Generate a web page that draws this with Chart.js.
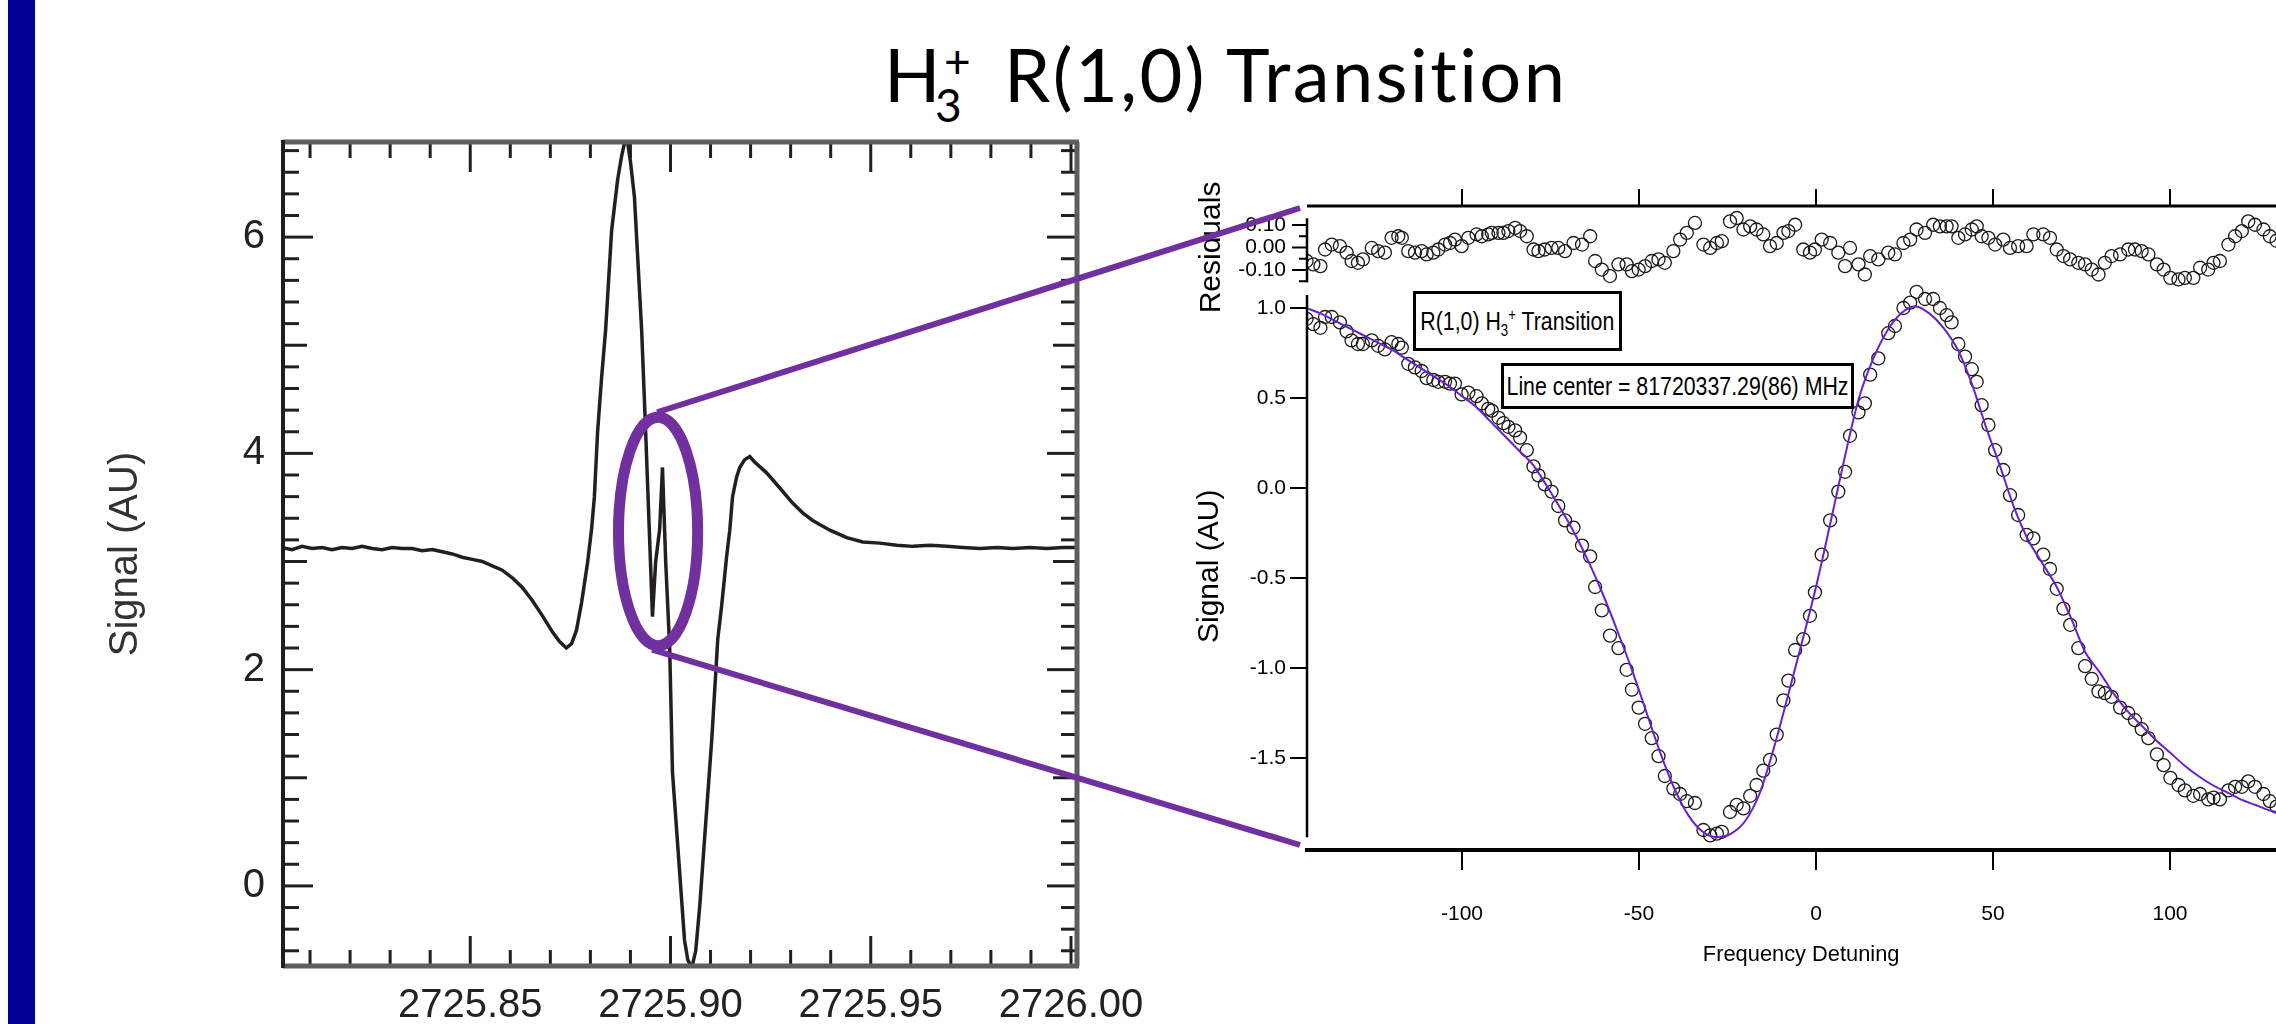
<!DOCTYPE html>
<html>
<head>
<meta charset="utf-8">
<script src="https://cdn.jsdelivr.net/npm/chart.js@4.4.1/dist/chart.umd.min.js"></script>
<style>
html,body{margin:0;padding:0;width:2276px;height:1024px;overflow:hidden;background:#fff;position:relative}
#bar{position:absolute;left:8px;top:0;width:27px;height:1024px;background:#000096}
#title{position:absolute;left:0;top:0;width:2276px;height:140px;color:#000}
#title span{position:absolute;font-family:Lato,"Open Sans",sans-serif;line-height:1;white-space:nowrap}
canvas{position:absolute}
#cl{left:40px;top:100px}
#cr{left:1187px;top:150px}
.box{position:absolute;border:3px solid #000;box-sizing:border-box;background:#fff;display:flex;align-items:center;justify-content:center;white-space:nowrap;color:#000}
.box .bt{display:inline-block;font-size:26px;line-height:1}
.box sub,.box sup{font-size:0.62em;line-height:0}
#box1{left:1413px;top:291px;width:209px;height:60px}
#box2{left:1501px;top:363px;width:353px;height:46px}
#ov{position:absolute;left:0;top:0;pointer-events:none}
</style>
</head>
<body>
<div id="bar"></div>
<div id="title"><span style="left:884px;top:37px;font-size:74px">H</span><span style="left:935px;top:82px;font-size:46px">3</span><span style="left:944px;top:38px;font-size:46px">+</span><span id="trest" style="left:1004px;top:37px;font-size:74px;letter-spacing:2.4px">R(1,0) Transition</span></div>
<canvas id="cl" width="1120" height="924"></canvas>
<canvas id="cr" width="1250" height="820"></canvas>
<div class="box" id="box1"><span class="bt">R(1,0) H<sub>3</sub><sup>+</sup> Transition</span></div>
<div class="box" id="box2"><span class="bt">Line center = 81720337.29(86) MHz</span></div>
<svg id="ov" width="2276" height="1024"></svg>
<script>
// ---------------- LEFT PANEL DATA (survey scan) ----------------
const leftFreq = [2725.803, 2725.8055, 2725.808, 2725.8105, 2725.813, 2725.8155, 2725.818, 2725.8205, 2725.823, 2725.8255,
  2725.828, 2725.8305, 2725.833, 2725.8355, 2725.838, 2725.8405, 2725.843, 2725.8455, 2725.848, 2725.8505,
  2725.853, 2725.8555, 2725.858, 2725.8605, 2725.863, 2725.8655, 2725.868, 2725.8705, 2725.8723, 2725.874,
  2725.8753, 2725.8765, 2725.8778, 2725.8793, 2725.8803, 2725.881, 2725.8818, 2725.8828, 2725.8838, 2725.8853,
  2725.8868, 2725.8878, 2725.889, 2725.89, 2725.891, 2725.8928, 2725.8938, 2725.8948, 2725.8955, 2725.8963,
  2725.8973, 2725.898, 2725.8988, 2725.8998, 2725.9005, 2725.9023, 2725.9035, 2725.9043, 2725.9053, 2725.9063,
  2725.9073, 2725.9085, 2725.9103, 2725.9118, 2725.9128, 2725.914, 2725.9148, 2725.9155, 2725.9165, 2725.9173,
  2725.9185, 2725.9198, 2725.921, 2725.924, 2725.9273, 2725.9305, 2725.933, 2725.9355, 2725.9398, 2725.944,
  2725.948, 2725.9523, 2725.9565, 2725.9605, 2725.9648, 2725.969, 2725.973, 2725.9773, 2725.9815, 2725.9855,
  2725.9898, 2725.994, 2725.998, 2726.0015];
const leftSignal = [3.13, 3.11, 3.14, 3.12, 3.13, 3.11, 3.13, 3.12, 3.14, 3.12,
  3.11, 3.13, 3.12, 3.12, 3.10, 3.11, 3.09, 3.07, 3.04, 3.02,
  3.00, 2.96, 2.92, 2.85, 2.76, 2.64, 2.50, 2.35, 2.26, 2.20,
  2.24, 2.36, 2.62, 2.99, 3.30, 3.60, 4.20, 4.70, 5.14, 6.06,
  6.53, 6.75, 6.95, 6.70, 6.37, 5.14, 4.20, 3.20, 2.49, 3.00,
  3.30, 3.87, 3.00, 2.20, 1.05, 0.12, -0.50, -0.68, -0.76, -0.60,
  -0.19, 0.43, 1.35, 2.28, 2.60, 3.04, 3.29, 3.60, 3.78, 3.87,
  3.94, 3.97, 3.92, 3.82, 3.68, 3.54, 3.45, 3.38, 3.29, 3.22,
  3.18, 3.17, 3.15, 3.14, 3.15, 3.14, 3.13, 3.12, 3.13, 3.12,
  3.13, 3.12, 3.13, 3.13];
const leftXTicks = [2725.85, 2725.90, 2725.95, 2726.00];
const leftYTicks = [0, 2, 4, 6];

// ---------------- RIGHT PANEL DATA (zoomed scan + fit) ----------------
const detuning = [-143.9, -142.0, -140.0, -138.7, -136.8, -134.5, -132.6, -131.2, -129.4, -128.0,
  -125.5, -123.7, -121.8, -119.9, -118.0, -117.0, -115.2, -113.3, -111.4, -110.0,
  -108.1, -106.7, -104.8, -103.4, -102.0, -100.1, -98.2, -95.9, -94.4, -92.6,
  -91.6, -89.7, -88.3, -86.9, -85.0, -83.6, -81.7, -79.8, -78.4, -76.6,
  -74.7, -72.8, -70.9, -68.5, -66.1, -63.8, -62.4, -60.5, -58.2, -55.8,
  -53.5, -52.0, -50.1, -48.3, -46.4, -44.5, -42.7, -40.3, -38.4, -36.5,
  -34.2, -31.8, -29.9, -28.0, -26.6, -24.3, -22.4, -20.5, -18.6, -16.8,
  -14.9, -13.0, -11.1, -9.2, -7.8, -5.9, -3.6, -1.7, -0.3, 1.6,
  4.0, 6.3, 8.2, 9.6, 12.0, 13.8, 15.3, 17.6, 20.4, 22.3,
  24.7, 26.6, 28.4, 30.8, 33.1, 35.0, 36.9, 38.3, 40.2, 42.1,
  44.0, 45.4, 46.8, 48.7, 50.6, 52.9, 54.8, 57.1, 59.5, 61.4,
  64.2, 66.1, 68.0, 69.9, 71.8, 74.1, 76.0, 77.9, 79.8, 81.6,
  83.5, 85.9, 88.2, 90.1, 92.0, 93.9, 96.3, 98.2, 100.1, 102.4,
  104.2, 106.6, 108.5, 110.8, 112.3, 114.1, 116.5, 118.4, 120.3, 122.1,
  124.0, 126.4, 128.2, 130.1, 132.0, 134.0, 136.0];
const signal = [0.94, 0.91, 0.89, 0.95, 0.95, 0.92, 0.87, 0.82, 0.80, 0.80,
  0.82, 0.79, 0.77, 0.81, 0.80, 0.78, 0.69, 0.67, 0.65, 0.61,
  0.60, 0.59, 0.59, 0.58, 0.58, 0.52, 0.53, 0.51, 0.47, 0.44,
  0.43, 0.39, 0.36, 0.34, 0.32, 0.28, 0.21, 0.12, 0.07, 0.02,
  -0.02, -0.10, -0.18, -0.22, -0.32, -0.38, -0.55, -0.68, -0.82, -0.89,
  -1.01, -1.12, -1.22, -1.31, -1.39, -1.49, -1.60, -1.67, -1.70, -1.74,
  -1.75, -1.90, -1.93, -1.92, -1.91, -1.80, -1.76, -1.78, -1.71, -1.65,
  -1.57, -1.51, -1.37, -1.18, -1.07, -0.90, -0.84, -0.71, -0.58, -0.37,
  -0.18, -0.02, 0.09, 0.29, 0.42, 0.47, 0.63, 0.72, 0.86, 0.90,
  1.00, 1.03, 1.09, 1.05, 1.05, 1.00, 0.96, 0.92, 0.80, 0.73,
  0.66, 0.59, 0.46, 0.35, 0.21, 0.10, -0.04, -0.15, -0.26, -0.28,
  -0.37, -0.45, -0.56, -0.67, -0.76, -0.89, -0.99, -1.06, -1.13, -1.14,
  -1.16, -1.22, -1.25, -1.29, -1.34, -1.39, -1.48, -1.54, -1.61, -1.65,
  -1.68, -1.71, -1.70, -1.73, -1.72, -1.73, -1.68, -1.66, -1.66, -1.63,
  -1.66, -1.70, -1.74, -1.77, -1.80, -1.84, -1.87];
const residuals = [-0.060, -0.075, -0.083, -0.009, 0.013, 0.006, -0.023, -0.060, -0.068, -0.053,
  -0.002, -0.016, -0.023, 0.043, 0.050, 0.043, -0.016, -0.023, -0.016, -0.031,
  -0.023, -0.009, 0.013, 0.020, 0.035, 0.006, 0.043, 0.058, 0.050, 0.058,
  0.065, 0.065, 0.065, 0.073, 0.087, 0.073, 0.050, -0.009, -0.016, -0.009,
  -0.002, -0.002, -0.016, 0.020, 0.013, 0.050, -0.060, -0.098, -0.127, -0.075,
  -0.075, -0.105, -0.098, -0.083, -0.060, -0.053, -0.068, -0.016, 0.035, 0.065,
  0.109, 0.013, -0.002, 0.020, 0.028, 0.116, 0.131, 0.080, 0.094, 0.080,
  0.058, 0.006, 0.020, 0.065, 0.073, 0.101, -0.009, -0.023, -0.009, 0.035,
  0.020, -0.023, -0.083, -0.002, -0.075, -0.120, -0.038, -0.053, -0.023, -0.031,
  0.020, 0.035, 0.080, 0.065, 0.101, 0.094, 0.094, 0.094, 0.043, 0.058,
  0.080, 0.094, 0.050, 0.043, 0.013, 0.035, -0.002, 0.006, 0.006, 0.058,
  0.058, 0.043, -0.009, -0.038, -0.053, -0.068, -0.075, -0.098, -0.120, -0.068,
  -0.038, -0.031, -0.009, -0.009, -0.016, -0.031, -0.075, -0.098, -0.135, -0.142,
  -0.135, -0.135, -0.090, -0.098, -0.068, -0.060, 0.013, 0.050, 0.073, 0.116,
  0.101, 0.080, 0.050, 0.030, 0.010, -0.020, -0.040];
const fitDetuning = [-144, -140, -136, -132, -128, -124, -120, -116, -112, -108,
  -104, -100, -96, -92, -88, -84, -80, -76, -72, -68,
  -64, -60, -56, -52, -48, -44, -40, -36, -32, -28,
  -24, -20, -16, -12, -8, -4, 0, 4, 8, 12,
  16, 20, 24, 28, 32, 36, 40, 44, 48, 52,
  56, 60, 64, 68, 72, 76, 80, 84, 88, 92,
  96, 100, 104, 108, 112, 116, 120, 124, 128, 132,
  136, 140, 150, 160, 172];
const fitSignal = [1.00, 0.97, 0.93, 0.89, 0.85, 0.81, 0.77, 0.72, 0.67, 0.62,
  0.57, 0.51, 0.45, 0.37, 0.29, 0.21, 0.13, 0.01, -0.12, -0.26,
  -0.42, -0.60, -0.80, -1.01, -1.24, -1.47, -1.67, -1.82, -1.91, -1.94,
  -1.92, -1.85, -1.70, -1.45, -1.16, -0.86, -0.55, -0.20, 0.16, 0.49,
  0.71, 0.87, 0.97, 1.01, 0.97, 0.89, 0.77, 0.58, 0.34, 0.12,
  -0.11, -0.29, -0.42, -0.55, -0.72, -0.91, -1.02, -1.14, -1.24, -1.32,
  -1.40, -1.47, -1.54, -1.60, -1.65, -1.69, -1.73, -1.76, -1.79, -1.81,
  -1.83, -1.86, -1.91, -1.95, -1.98];
const rightXTicks = [-100, -50, 0, 50, 100, 150];
const rightYTicks = [1.0, 0.5, 0, -0.5, -1.0, -1.5];
const resMajorTicks = [0.10, 0.00, -0.10];
const resTickLabels = ['0.10', '0.00', '-0.10'];
const resMinorTicks = [0.05, -0.05, -0.15];

// ---------------- fonts ----------------
function hasFont(name) {
  const c = document.createElement('canvas').getContext('2d');
  const s = 'mmmmmmmmmmlli1234567890WW';
  let diff = false;
  for (const fb of ['monospace', 'serif']) {
    c.font = '40px ' + fb; const a = c.measureText(s).width;
    c.font = '40px "' + name + '", ' + fb; const b = c.measureText(s).width;
    if (Math.abs(a - b) > 0.5) diff = true;
  }
  return diff;
}
const narrowOK = hasFont('Liberation Sans Narrow');
const NARROW = narrowOK ? '"Liberation Sans Narrow", "Liberation Sans", sans-serif' : '"Liberation Sans", Arial, sans-serif';
const NS = narrowOK ? 1 : 0.84;
const SANS = '"Liberation Sans", Arial, sans-serif';
document.querySelectorAll('.box .bt').forEach(el => {
  el.style.fontFamily = NARROW;
  if (!narrowOK) el.style.transform = 'scaleX(0.82)';
});

function seg(ctx, x1, y1, x2, y2) { ctx.beginPath(); ctx.moveTo(x1, y1); ctx.lineTo(x2, y2); ctx.stroke(); }

// ---------------- left chart ----------------
const leftYTickMarks = []; for (let n = -3; n <= 34; n++) leftYTickMarks.push(n / 5);
const leftXTickMarks = []; for (let n = 1; n <= 20; n++) leftXTickMarks.push(2725.80 + n / 100);

const leftFrame = {
  id: 'leftFrame',
  afterDatasetsDraw(chart) {
    const { ctx, chartArea: a, scales: { x, y } } = chart;
    ctx.save();
    ctx.lineCap = 'butt';
    ctx.strokeStyle = '#231f20'; ctx.lineWidth = 3;
    for (const v of leftYTickMarks) {
      const py = y.getPixelForValue(v);
      const n = Math.round(v * 5);
      let len = 16;
      if (n % 10 === 0) len = 30; else if (n % 5 === 0) len = 24;
      seg(ctx, a.left, py, a.left + len, py);
      seg(ctx, a.right, py, a.right - len, py);
    }
    for (const v of leftXTickMarks) {
      const px = x.getPixelForValue(v);
      const n = Math.round((v - 2725.80) * 100);
      const len = n % 5 === 0 ? 30 : 16;
      seg(ctx, px, a.top, px, a.top + len);
      seg(ctx, px, a.bottom, px, a.bottom - len);
    }
    ctx.strokeStyle = '#5e5e5e'; ctx.lineWidth = 5;
    seg(ctx, a.left, a.top, a.right + 2, a.top);
    seg(ctx, a.left, a.bottom, a.right + 2, a.bottom);
    seg(ctx, a.right, a.top, a.right, a.bottom);
    ctx.strokeStyle = '#1e1e1e'; ctx.lineWidth = 4;
    seg(ctx, a.left, a.top - 2, a.left, a.bottom + 2);
    ctx.restore();
  }
};

const chartL = new Chart(document.getElementById('cl'), {
  type: 'scatter',
  data: {
    datasets: [{
      data: leftFreq.map((f, i) => ({ x: f, y: leftSignal[i] })),
      showLine: true, pointRadius: 0, borderColor: '#231f20', borderWidth: 3.5, tension: 0
    }]
  },
  options: {
    responsive: false, animation: false, events: [],
    layout: { padding: { top: 42, right: 83, left: 0, bottom: 0 } },
    plugins: { legend: { display: false }, tooltip: { enabled: false } },
    scales: {
      x: {
        type: 'linear', min: 2725.80325, max: 2726.0015,
        afterBuildTicks: s => { s.ticks = leftXTicks.map(v => ({ value: v })); },
        afterFit: s => { s.height = 58; },
        grid: { display: false, drawTicks: false }, border: { display: false },
        ticks: { font: { family: SANS, size: 40 }, color: '#222', padding: 16, maxRotation: 0, autoSkip: false, callback: v => Number(v).toFixed(2) }
      },
      y: {
        type: 'linear', min: -0.7407, max: 6.8796,
        afterBuildTicks: s => { s.ticks = leftYTicks.map(v => ({ value: v })); },
        afterFit: s => { s.width = 243; },
        grid: { display: false, drawTicks: false }, border: { display: false },
        ticks: { font: { family: SANS, size: 40 }, color: '#222', padding: 18, callback: v => String(v) },
        title: { display: true, text: 'Signal (AU)', font: { family: SANS, size: 40 }, color: '#333', padding: { top: 62, bottom: 0 } }
      }
    }
  },
  plugins: [leftFrame]
});

// ---------------- right chart ----------------
const mainAxisTop = 1.072, mainAxisBottom = -1.94;
const resAxisTop = 0.13, resAxisBottom = -0.155;

const rightDecor = {
  id: 'rightDecor',
  afterDraw(chart) {
    const { ctx, chartArea: a, scales } = chart;
    const x = scales.x, y = scales.y, yr = scales.yr;
    ctx.save();
    ctx.strokeStyle = '#000'; ctx.fillStyle = '#000'; ctx.lineCap = 'butt';
    ctx.lineWidth = 3;
    seg(ctx, a.left, a.top, a.right, a.top);
    ctx.lineWidth = 2;
    for (const v of rightXTicks) { const px = x.getPixelForValue(v); seg(ctx, px, a.top, px, a.top - 17); }
    ctx.lineWidth = 2.5;
    seg(ctx, a.left, y.getPixelForValue(mainAxisTop), a.left, y.getPixelForValue(mainAxisBottom));
    seg(ctx, a.left, yr.getPixelForValue(resAxisTop), a.left, yr.getPixelForValue(resAxisBottom));
    ctx.lineWidth = 2;
    for (const v of resMajorTicks) { const py = yr.getPixelForValue(v); seg(ctx, a.left - 15, py, a.left, py); }
    for (const v of resMinorTicks) { const py = yr.getPixelForValue(v); seg(ctx, a.left - 8, py, a.left, py); }
    ctx.font = (25 * NS) + 'px ' + NARROW;
    ctx.textAlign = 'right'; ctx.textBaseline = 'middle';
    resMajorTicks.forEach((v, i) => ctx.fillText(resTickLabels[i], a.left - 21, yr.getPixelForValue(v)));
    // axis titles
    ctx.font = '30px ' + SANS; ctx.textAlign = 'center'; ctx.textBaseline = 'middle';
    const rot = (t, px, py) => { ctx.save(); ctx.translate(px, py); ctx.rotate(-Math.PI / 2); ctx.fillText(t, 0, 0); ctx.restore(); };
    rot('Residuals', a.left - 95, yr.getPixelForValue(0));
    rot('Signal (AU)', a.left - 97, y.getPixelForValue(-0.435));
    ctx.font = (26 * NS) + 'px ' + NARROW; ctx.textBaseline = 'alphabetic';
    ctx.fillText('Frequency Detuning', x.getPixelForValue(-4.2), a.bottom + 111);
    ctx.restore();
  }
};

const chartR = new Chart(document.getElementById('cr'), {
  type: 'scatter',
  data: {
    datasets: [
      { label: 'fit', data: fitDetuning.map((f, i) => ({ x: f, y: fitSignal[i] })), yAxisID: 'y',
        showLine: true, pointRadius: 0, borderColor: '#6a1fd0', borderWidth: 2, cubicInterpolationMode: 'monotone', order: 0 },
      { label: 'signal', data: detuning.map((f, i) => ({ x: f, y: signal[i] })), yAxisID: 'y',
        showLine: false, pointStyle: 'circle', pointRadius: 6.5, borderColor: '#1a1a1a', backgroundColor: 'rgba(0,0,0,0)', borderWidth: 1.3, order: 1 },
      { label: 'residuals', data: detuning.map((f, i) => ({ x: f, y: residuals[i] })), yAxisID: 'yr',
        showLine: false, pointStyle: 'circle', pointRadius: 6.5, borderColor: '#1a1a1a', backgroundColor: 'rgba(0,0,0,0)', borderWidth: 1.3, order: 1 }
    ]
  },
  options: {
    responsive: false, animation: false, events: [],
    layout: { padding: { top: 56, right: 10, left: 0, bottom: 0 } },
    plugins: { legend: { display: false }, tooltip: { enabled: false } },
    scales: {
      x: {
        type: 'linear', position: 'bottom', min: -143.79, max: 172.6,
        afterBuildTicks: s => { s.ticks = rightXTicks.map(v => ({ value: v })); },
        afterFit: s => { s.height = 120; },
        grid: { drawOnChartArea: false, drawTicks: true, tickLength: 20, color: '#000', lineWidth: 2 },
        border: { display: true, color: '#000', width: 4 },
        ticks: { font: { family: NARROW, size: 25 * NS }, color: '#000', padding: 32, maxRotation: 0, autoSkip: false, callback: v => String(v) }
      },
      y: {
        type: 'linear', position: 'left', min: -2.0111, max: 1.5667,
        afterBuildTicks: s => { s.ticks = rightYTicks.map(v => ({ value: v })); },
        afterFit: s => { s.width = 120; },
        grid: { drawOnChartArea: false, drawTicks: true, tickLength: 17, color: '#000', lineWidth: 2 },
        border: { display: false },
        ticks: { font: { family: NARROW, size: 25 * NS }, color: '#000', padding: 4, callback: v => Number(v).toFixed(1) }
      },
      yr: { type: 'linear', position: 'left', display: false, min: -2.6778, max: 0.1844 }
    }
  },
  plugins: [rightDecor]
});

// ---------------- zoom callout (ellipse + connector lines) ----------------
const zoomFreqCenter = 2725.8969, zoomFreqHalf = 0.00988;
const zoomSignalCenter = 3.278, zoomSignalHalf = 1.056;
(function drawCallout() {
  const NS_SVG = 'http://www.w3.org/2000/svg';
  const svg = document.getElementById('ov');
  const cl = document.getElementById('cl'), cr = document.getElementById('cr');
  const lx = chartL.scales.x, ly = chartL.scales.y;
  const ox = cl.offsetLeft, oy = cl.offsetTop;
  const cx = ox + lx.getPixelForValue(zoomFreqCenter);
  const cy = oy + ly.getPixelForValue(zoomSignalCenter);
  const rx = Math.abs(lx.getPixelForValue(zoomFreqCenter + zoomFreqHalf) - lx.getPixelForValue(zoomFreqCenter));
  const ry = Math.abs(ly.getPixelForValue(zoomSignalCenter + zoomSignalHalf) - ly.getPixelForValue(zoomSignalCenter));
  const ra = chartR.chartArea;
  const ex = cr.offsetLeft + ra.left - 7;
  const eyTop = cr.offsetTop + ra.top + 2;
  const eyBot = cr.offsetTop + ra.bottom - 5;
  const mk = (tag, attrs) => { const e = document.createElementNS(NS_SVG, tag); for (const k in attrs) e.setAttribute(k, attrs[k]); svg.appendChild(e); return e; };
  const purple = '#7030a0';
  mk('line', { x1: cx - 1, y1: cy - ry - 5, x2: ex, y2: eyTop, stroke: purple, 'stroke-width': 6 });
  mk('line', { x1: cx - 6, y1: cy + ry + 4, x2: ex, y2: eyBot, stroke: purple, 'stroke-width': 6 });
  mk('ellipse', { cx: cx, cy: cy, rx: rx, ry: ry, fill: 'none', stroke: purple, 'stroke-width': 11 });
})();
</script>
</body>
</html>
